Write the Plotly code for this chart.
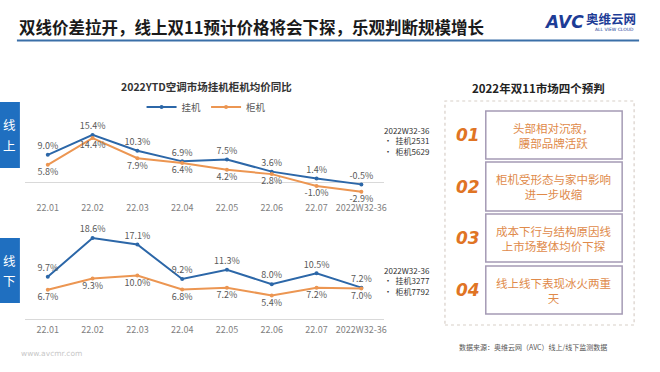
import plotly.graph_objects as go

W, H = 660, 372

categories = ["22.01", "22.02", "22.03", "22.04", "22.05", "22.06", "22.07", "2022W32-36"]
online_wall = [9.0, 15.4, 10.3, 6.9, 7.5, 3.6, 1.4, -0.5]
online_floor = [5.8, 14.4, 7.9, 6.4, 4.2, 2.8, -1.0, -2.9]
offline_wall = [9.7, 18.6, 17.1, 9.2, 11.3, 8.0, 10.5, 7.2]
offline_floor = [6.7, 9.3, 10.0, 6.8, 7.2, 5.4, 7.2, 7.0]

online_wall_pos = ["top center"] * 8
online_floor_pos = ["bottom center"] * 8
offline_wall_pos = ["top center"] * 8
offline_floor_pos = ["bottom center"] * 8

series_names = ["挂机", "柜机"]
online_notes = ["2022W32-36", "•  挂机2531", "•  柜机5629"]
offline_notes = ["2022W32-36", "•  挂机3277", "•  柜机7792"]

predict_nums = ["01", "02", "03", "04"]
predict_texts = ["头部相对沉寂，<br>腰部品牌活跃", "柜机受形态与家中影响<br>进一步收缩",
                 "成本下行与结构原因线<br>上市场整体均价下探", "线上线下表现冰火两重<br>天"]

BLUE = "#2c67a8"
ORANGE = "#ec9652"
LBL = "#595959"
FONT = "Noto Sans CJK SC"


def px(x):
    return x / W


def py(y):
    return 1 - y / H


fig = go.Figure()


def add_series(vals, pos, color, name, xa, ya, showleg):
    fig.add_trace(go.Scatter(
        x=categories, y=vals, mode="lines+markers+text", name=name,
        line=dict(color=color, width=2), marker=dict(color=color, size=4),
        text=[f"{v:.1f}%" for v in vals], textposition=pos,
        textfont=dict(size=9, color=LBL, family=FONT),
        xaxis=xa, yaxis=ya, showlegend=showleg, cliponaxis=False,
    ))


add_series(online_wall, online_wall_pos, BLUE, series_names[0], "x", "y", True)
add_series(online_floor, online_floor_pos, ORANGE, series_names[1], "x", "y", True)
add_series(offline_wall, offline_wall_pos, BLUE, series_names[0], "x2", "y2", False)
add_series(offline_floor, offline_floor_pos, ORANGE, series_names[1], "x2", "y2", False)

xdom = [px(25.5), px(385.5)]
axis_x = dict(domain=xdom, type="category", range=[-0.5, 7.5], showgrid=False, zeroline=False,
              tickfont=dict(size=9, color="#7f7f7f", family=FONT), ticks="", fixedrange=True,
              ticklabelstandoff=2)

fig.update_layout(
    width=W, height=H, margin=dict(l=0, r=0, t=0, b=0),
    paper_bgcolor="white", plot_bgcolor="rgba(0,0,0,0)",
    font=dict(family=FONT, color="#333"),
    xaxis=dict(**axis_x, anchor="y", showline=False),
    yaxis=dict(domain=[py(199), py(120)], range=[-5.2, 20.2], showgrid=False, showticklabels=False,
               zeroline=True, zerolinecolor="#d9d9d9", zerolinewidth=1),
    xaxis2=dict(**axis_x, anchor="y2", showline=True, linecolor="#d9d9d9", linewidth=1),
    yaxis2=dict(domain=[py(319), py(228)], range=[0, 20.9], showgrid=False, showticklabels=False,
                zeroline=False),
    legend=dict(orientation="h", x=px(207), xanchor="center", y=py(107), yanchor="middle",
                font=dict(size=9.5, color=LBL, family=FONT), bgcolor="rgba(0,0,0,0)",
                itemwidth=30, tracegroupgap=0),
)

shapes = []
ann = []

# main title and underline
ann.append(dict(x=px(17), y=py(27), xref="paper", yref="paper", xanchor="left", yanchor="middle",
                text="<b>双线价差拉开，线上双11预计价格将会下探，乐观判断规模增长</b>", showarrow=False,
                font=dict(size=16.5, color="#1a1a1a", family=FONT)))
shapes.append(dict(type="line", xref="paper", yref="paper", x0=px(17), x1=px(642), y0=py(40.5), y1=py(40.5),
                   line=dict(color="#3a6fa8", width=2)))

# logo
ann.append(dict(x=px(544), y=py(22), xref="paper", yref="paper", xanchor="left", yanchor="middle",
                text="<b><i>AVC</i></b>", showarrow=False, font=dict(size=17, color="#1d3c96", family="DejaVu Sans")))
ann.append(dict(x=px(587), y=py(19), xref="paper", yref="paper", xanchor="left", yanchor="middle",
                text="<b>奥维云网</b>", showarrow=False, font=dict(size=12.5, color="#1d3c96", family=FONT)))
ann.append(dict(x=px(596), y=py(29), xref="paper", yref="paper", xanchor="left", yanchor="middle",
                text="ALL VIEW CLOUD", showarrow=False, font=dict(size=4.5, color="#1d3c96", family="DejaVu Sans")))

# chart title
ann.append(dict(x=px(207), y=py(86), xref="paper", yref="paper", xanchor="center", yanchor="middle",
                text="<b>2022YTD空调市场挂机柜机均价同比</b>", showarrow=False,
                font=dict(size=10.5, color="#333", family=FONT)))

# side tabs
for (y0, y1, t1, t2) in [(102, 168, "线", "上"), (238, 303, "线", "下")]:
    shapes.append(dict(type="rect", xref="paper", yref="paper", x0=0, x1=px(20), y0=py(y1), y1=py(y0),
                       fillcolor="#1f6fc0", line=dict(width=0)))
    mid = (y0 + y1) / 2
    for t, dy in [(t1, -10), (t2, 10)]:
        ann.append(dict(x=px(10), y=py(mid + dy), xref="paper", yref="paper", xanchor="center",
                        yanchor="middle", text=t, showarrow=False, borderpad=0,
                        font=dict(size=12.5, color="white", family=FONT)))

# notes
for notes, ys in [(online_notes, [130, 140.5, 151]), (offline_notes, [270, 280.5, 291])]:
    for t, yy in zip(notes, ys):
        ann.append(dict(x=px(384), y=py(yy), xref="paper", yref="paper", xanchor="left", yanchor="middle",
                        text=t, showarrow=False, font=dict(size=8, color="#333", family=FONT)))

# right panel
ann.append(dict(x=px(541), y=py(88), xref="paper", yref="paper", xanchor="center", yanchor="middle",
                text="<b>2022年双11市场四个预判</b>", showarrow=False,
                font=dict(size=11.5, color="#222", family=FONT)))
shapes.append(dict(type="rect", xref="paper", yref="paper", x0=px(447), x1=px(637), y0=py(325), y1=py(101),
                   line=dict(color="#d8cfc8", width=1.2, dash="dot"), fillcolor="rgba(0,0,0,0)"))
boxes = [(111, 159), (162, 211), (214, 262), (266, 314)]
for (y0, y1), n, t in zip(boxes, predict_nums, predict_texts):
    shapes.append(dict(type="rect", xref="paper", yref="paper", x0=px(488), x1=px(625), y0=py(y1), y1=py(y0),
                       line=dict(color="#a59bb5", width=1.5), fillcolor="white"))
    ann.append(dict(x=px(470), y=py((y0 + y1) / 2), xref="paper", yref="paper", xanchor="center",
                    yanchor="middle", text=f"<b><i>{n}</i></b>", showarrow=False,
                    font=dict(size=17, color="#e07424", family="DejaVu Sans")))
    ann.append(dict(x=px(556), y=py((y0 + y1) / 2), xref="paper", yref="paper", xanchor="center",
                    yanchor="middle", text=t, showarrow=False,
                    font=dict(size=11.5, color="#e08a4a", family=FONT)))

ann.append(dict(x=px(459), y=py(347), xref="paper", yref="paper", xanchor="left", yanchor="middle",
                text="数据来源：奥维云网（AVC）线上/线下监测数据", showarrow=False,
                font=dict(size=7, color="#555", family=FONT)))
ann.append(dict(x=px(19), y=py(353), xref="paper", yref="paper", xanchor="left", yanchor="middle",
                text="www.avcmr.com", showarrow=False,
                font=dict(size=7.5, color="#c8c8c8", family="DejaVu Sans")))

fig.update_layout(shapes=shapes, annotations=ann)
fig.write_html("out.html", config={"displayModeBar": False},
               post_script="document.body.style.margin='0';")
